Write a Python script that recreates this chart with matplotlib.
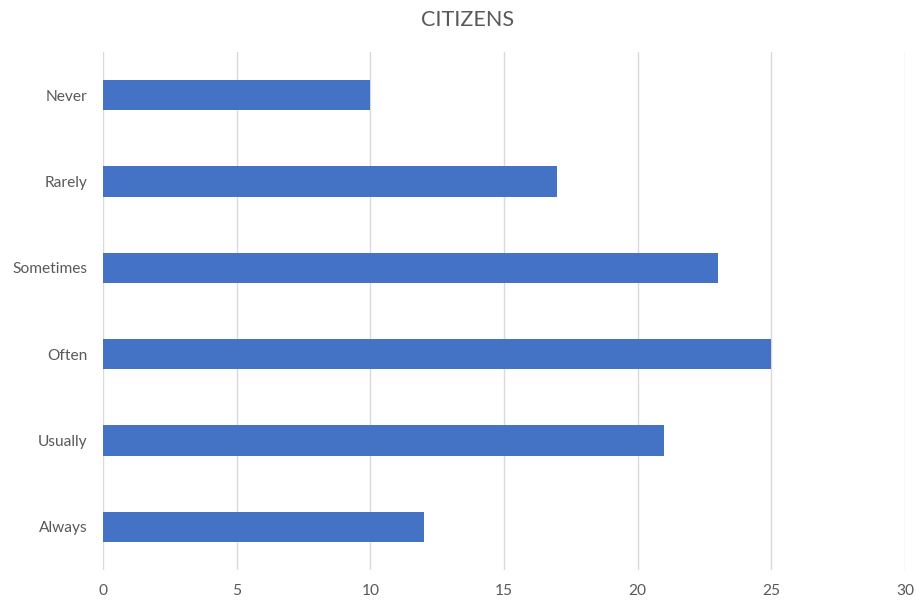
import matplotlib
matplotlib.use("Agg")
import matplotlib.pyplot as plt

categories = ["Never", "Rarely", "Sometimes", "Often", "Usually", "Always"]
values = [10, 17, 23, 25, 21, 12]
x_ticks = [0, 5, 10, 15, 20, 25, 30]

plt.rcParams["font.family"] = ["Lato", "DejaVu Sans"]
text_color = "#595959"
bar_color = "#4472C4"
grid_color = "#D9D9D9"

fig = plt.figure(figsize=(9.16, 6.02), dpi=100)
ax = fig.add_axes([103 / 916, 1 - 570 / 602, (905 - 103) / 916, (570 - 52) / 602])

positions = list(range(len(categories)))
ax.barh(positions, values, height=0.355, color=bar_color, zorder=3)

ax.set_ylim(len(categories) - 0.5, -0.5)
ax.set_yticks(positions)
ax.set_yticklabels(categories)
ax.set_xlim(0, 30)
ax.set_xticks(x_ticks)
ax.set_xticklabels([str(t) for t in x_ticks])

ax.grid(axis="x", color=grid_color, linewidth=1, zorder=0)
for s in ax.spines.values():
    s.set_visible(False)
ax.tick_params(axis="both", length=0, labelsize=11.2, labelcolor=text_color)
ax.tick_params(axis="y", pad=11)
ax.tick_params(axis="x", pad=10)

fig.text(467 / 916, 1 - 20 / 602, "CITIZENS", ha="center", va="center",
         fontsize=15.5, color=text_color)

fig.savefig("out.png", dpi=100, facecolor="white")
